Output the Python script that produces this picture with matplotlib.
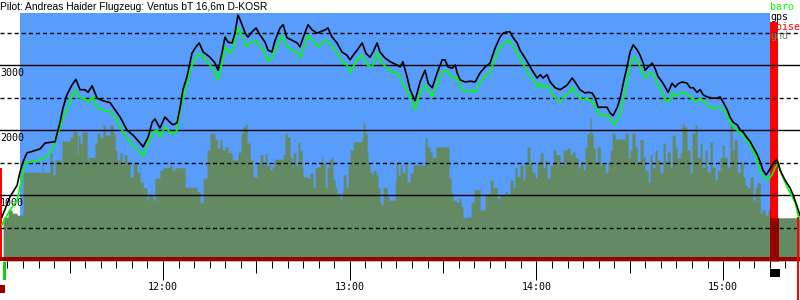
import matplotlib
matplotlib.use("Agg")
import matplotlib.pyplot as plt
from matplotlib.patches import Rectangle

# Zeit in Minuten nach 11:00, Hoehen in m
gps_t = [8.2, 10.8, 13.1, 14.0, 15.0, 16.3, 17.2, 20.5, 22.1, 25.3,
         26.9, 27.9, 29.1, 30.7, 32.0, 33.3, 34.9, 35.9, 37.2, 38.8,
         40.7, 43.0, 44.6, 46.2, 48.4, 50.4, 52.6, 53.6, 55.2, 56.5,
         57.4, 59.0, 60.6, 62.2, 63.2, 64.5, 65.5, 66.4, 67.7, 69.3,
         70.3, 71.6, 72.9, 75.1, 76.7, 77.7, 79.0, 79.9, 80.9, 82.2,
         83.1, 84.1, 85.4, 86.4, 87.3, 88.6, 89.9, 91.2, 92.8, 93.7,
         95.0, 96.0, 97.6, 98.6, 99.8, 101.5, 103.1, 104.0, 105.0, 106.6,
         107.9, 109.5, 110.5, 112.1, 113.0, 114.3, 115.9, 117.5, 119.1, 120.1,
         121.1, 122.4, 124.0, 125.2, 126.5, 127.5, 128.8, 129.7, 131.3, 133.0,
         133.9, 135.2, 136.2, 137.1, 138.4, 139.4, 140.4, 141.0, 142.6, 144.2,
         145.2, 146.5, 148.1, 149.7, 150.6, 151.6, 152.9, 153.9, 154.5, 155.5,
         157.1, 158.7, 160.3, 161.9, 163.5, 165.1, 166.7, 168.3, 169.3, 170.6,
         171.5, 172.5, 173.8, 174.7, 176.3, 177.3, 178.6, 180.2, 181.2, 182.1,
         183.4, 184.4, 186.0, 187.6, 188.6, 189.8, 191.5, 192.4, 194.0, 195.6,
         196.6, 197.9, 198.9, 199.8, 201.4, 202.7, 203.7, 204.6, 205.9, 206.9,
         207.9, 209.1, 210.1, 211.1, 212.4, 213.3, 214.3, 214.9, 215.9, 217.2,
         218.1, 219.1, 220.4, 221.4, 222.3, 223.6, 224.6, 225.5, 226.8, 228.4,
         229.4, 230.4, 231.6, 232.6, 233.6, 234.9, 236.5, 238.1, 239.0, 240.0,
         241.3, 242.2, 243.2, 244.5, 245.5, 246.4, 247.7, 248.7, 249.6, 250.9,
         251.9, 252.8, 253.8, 254.4, 255.4, 256.1, 257.3, 258.3, 259.9, 261.5,
         262.5, 263.8, 264.7]
gps_alt = [660, 970, 1150, 1350, 1510, 1650, 1660, 1710, 1800, 1820,
           2120, 2350, 2540, 2690, 2780, 2620, 2620, 2580, 2680, 2490,
           2450, 2420, 2310, 2200, 2000, 1920, 1800, 1740, 1890, 2120,
           2170, 2030, 2200, 2120, 2080, 2110, 2350, 2620, 2820, 3180,
           3260, 3340, 3200, 3120, 3030, 2920, 3200, 3430, 3350, 3340,
           3490, 3770, 3620, 3490, 3430, 3510, 3570, 3460, 3350, 3230,
           3200, 3380, 3570, 3620, 3420, 3380, 3340, 3280, 3420, 3620,
           3540, 3490, 3510, 3540, 3570, 3430, 3340, 3200, 3150, 3080,
           3150, 3230, 3340, 3180, 3120, 3200, 3340, 3200, 3110, 3050,
           3030, 3000, 2970, 3050, 2820, 2620, 2510, 2450, 2740, 2920,
           2720, 2650, 2880, 3080, 3080, 2970, 2950, 3000, 2880, 2770,
           2740, 2750, 2740, 2880, 2970, 3030, 3260, 3430, 3490, 3510,
           3510, 3420, 3340, 3230, 3110, 3030, 2920, 2800, 2850, 2800,
           2850, 2740, 2650, 2620, 2650, 2690, 2800, 2740, 2620, 2570,
           2580, 2570, 2490, 2350, 2350, 2350, 2260, 2220, 2340, 2490,
           2720, 2970, 3200, 3310, 3230, 3150, 3030, 2920, 2970, 3030,
           2950, 2820, 2740, 2660, 2580, 2720, 2660, 2710, 2740, 2720,
           2650, 2650, 2580, 2620, 2540, 2510, 2490, 2490, 2510, 2430,
           2310, 2200, 2120, 2080, 2000, 1970, 1880, 1820, 1740, 1630,
           1510, 1380, 1310, 1350, 1430, 1490, 1550, 1380, 1230, 1110,
           1000, 820, 690]

baro_t = [8.2, 10.8, 13.1, 14.0, 15.6, 17.2, 20.5, 22.1, 23.7, 25.3,
          26.9, 28.2, 29.5, 30.7, 31.7, 33.3, 34.9, 35.9, 37.5, 38.8,
          40.7, 43.0, 44.6, 46.2, 48.4, 50.4, 52.6, 53.6, 55.2, 56.8,
          58.1, 59.0, 60.6, 62.2, 63.5, 64.5, 65.5, 67.1, 68.7, 70.3,
          71.6, 73.5, 75.1, 76.7, 77.7, 79.0, 79.9, 81.5, 82.5, 84.1,
          85.4, 86.7, 88.0, 89.9, 91.2, 92.8, 93.7, 95.0, 96.6, 98.2,
          99.8, 101.5, 103.1, 104.0, 105.6, 106.6, 108.2, 109.8, 111.4, 112.7,
          114.3, 115.9, 117.5, 119.1, 120.1, 121.1, 122.7, 124.0, 125.6, 127.2,
          128.8, 130.4, 132.0, 133.6, 135.2, 136.2, 137.8, 139.4, 140.4, 141.0,
          142.6, 144.2, 145.8, 146.5, 148.1, 149.7, 151.3, 152.9, 154.5, 155.5,
          157.1, 158.7, 160.3, 161.9, 163.5, 165.1, 166.7, 168.3, 169.9, 171.5,
          172.5, 173.8, 174.7, 176.3, 177.3, 178.6, 180.2, 181.2, 182.1, 183.4,
          184.4, 186.0, 187.6, 189.2, 190.8, 191.5, 193.1, 194.7, 196.3, 197.9,
          199.5, 200.5, 202.1, 203.0, 204.3, 205.3, 206.9, 207.9, 209.1, 210.1,
          211.1, 212.4, 213.3, 214.3, 214.9, 216.5, 217.5, 218.8, 220.4, 221.4,
          222.3, 223.6, 224.6, 226.2, 227.8, 229.4, 231.0, 232.6, 234.2, 235.8,
          237.4, 239.0, 240.6, 242.2, 243.8, 245.5, 247.1, 248.7, 250.3, 250.9,
          251.9, 253.5, 254.4, 255.7, 256.7, 257.7, 258.9, 260.6, 262.2, 263.2,
          264.1, 264.7]
baro_alt = [540, 770, 920, 1120, 1490, 1510, 1540, 1580, 1650, 1800,
            2050, 2230, 2370, 2510, 2620, 2490, 2480, 2420, 2510, 2340,
            2310, 2280, 2200, 2050, 1880, 1770, 1660, 1600, 1800, 1970,
            2000, 1890, 2050, 1970, 1940, 2000, 2310, 2620, 2920, 3110,
            3180, 3080, 3000, 2890, 2770, 3050, 3280, 3180, 3230, 3570,
            3460, 3280, 3340, 3380, 3280, 3200, 3050, 3120, 3280, 3460,
            3280, 3230, 3200, 3110, 3310, 3460, 3380, 3280, 3350, 3380,
            3280, 3200, 3050, 3000, 2880, 2970, 3110, 3150, 3000, 2970,
            3180, 3030, 2950, 2890, 2880, 2800, 2650, 2510, 2380, 2310,
            2570, 2690, 2570, 2510, 2710, 2890, 2920, 2800, 2820, 2660,
            2580, 2620, 2580, 2740, 2820, 2890, 3110, 3260, 3350, 3380,
            3280, 3180, 3110, 2970, 2880, 2800, 2660, 2720, 2650, 2690,
            2620, 2490, 2430, 2540, 2580, 2660, 2540, 2460, 2490, 2430,
            2310, 2220, 2220, 2230, 2120, 2090, 2260, 2460, 2740, 3000,
            3120, 3080, 2970, 2850, 2800, 2890, 2850, 2720, 2570, 2460,
            2430, 2570, 2510, 2580, 2570, 2510, 2430, 2490, 2420, 2350,
            2340, 2350, 2280, 2120, 2030, 1950, 1880, 1770, 1620, 1530,
            1350, 1260, 1230, 1310, 1420, 1490, 1310, 1120, 970, 880,
            690, 620]

# Gelaende (Stufen, jeweils ab Zeitpunkt)
gnd_t = [8.6, 10.2, 11.5, 13.1, 15.0, 21.1, 21.4, 23.7, 24.3, 24.6,
         25.3, 26.9, 27.5, 30.1, 31.1, 32.4, 32.7, 33.3, 34.0, 35.6,
         35.9, 38.1, 38.8, 39.7, 40.7, 41.4, 43.0, 43.9, 44.6, 45.2,
         46.2, 46.8, 47.5, 48.4, 49.4, 50.4, 51.6, 52.6, 53.6, 54.8,
         55.2, 56.8, 57.4, 59.0, 60.0, 62.2, 62.9, 63.9, 67.1, 70.9,
         71.9, 72.9, 74.1, 75.1, 76.7, 77.4, 78.3, 79.0, 79.9, 80.9,
         82.2, 84.1, 85.1, 85.7, 86.4, 87.0, 88.0, 88.9, 90.2, 91.2,
         92.1, 92.8, 93.4, 94.4, 95.0, 95.7, 98.6, 99.2, 99.8, 100.8,
         101.5, 101.8, 102.7, 103.4, 104.0, 104.7, 105.0, 106.6, 107.2, 108.2,
         108.9, 109.5, 110.5, 111.1, 111.4, 112.1, 112.7, 113.3, 114.0, 114.6,
         115.3, 115.9, 116.9, 117.5, 117.9, 118.8, 119.5, 120.1, 121.1, 124.0,
         124.3, 124.9, 125.6, 125.9, 126.5, 127.2, 127.5, 128.5, 129.1, 129.7,
         130.1, 130.7, 131.7, 132.0, 132.6, 134.6, 134.9, 135.5, 136.2, 136.8,
         137.8, 138.4, 139.4, 140.4, 144.2, 144.9, 145.8, 146.5, 147.7, 151.9,
         152.6, 153.2, 154.2, 155.1, 155.8, 156.4, 157.1, 159.0, 160.0, 161.9,
         163.5, 165.1, 166.1, 167.4, 168.3, 169.9, 170.6, 171.5, 172.5, 173.1,
         173.8, 174.7, 175.7, 176.3, 177.0, 177.9, 178.6, 179.6, 180.2, 181.2,
         182.1, 182.8, 183.4, 184.4, 185.4, 186.3, 187.6, 188.6, 189.8, 190.8,
         191.5, 192.4, 193.4, 194.0, 195.0, 195.6, 196.3, 197.2, 197.6, 198.2,
         198.9, 199.5, 200.5, 201.1, 202.1, 203.0, 203.7, 204.3, 205.3, 208.5,
         209.5, 210.1, 210.7, 211.7, 212.4, 213.3, 214.3, 214.9, 215.9, 216.5,
         217.2, 218.1, 218.8, 219.7, 220.7, 221.4, 222.0, 223.0, 223.6, 224.6,
         225.2, 226.2, 226.8, 227.5, 228.4, 229.4, 230.0, 231.0, 231.6, 232.6,
         233.2, 234.2, 234.9, 235.8, 236.5, 237.4, 238.1, 239.0, 239.7, 240.3,
         241.3, 242.2, 242.9, 243.5, 244.5, 245.5, 246.4, 247.1, 247.7, 248.7,
         249.6, 250.3, 250.9, 251.9, 252.5, 253.5, 254.4, 255.1, 264.7]
gnd_alt = [660, 770, 720, 690, 1350, 1510, 1350, 1650, 1460, 1310,
           1540, 1510, 1830, 1890, 1980, 1620, 1920, 1800, 1970, 1490,
           1580, 1800, 1950, 1880, 2080, 1920, 2080, 1950, 1690, 1540,
           1650, 1460, 1620, 1510, 1280, 1510, 1350, 1200, 1110, 920,
           1000, 920, 1260, 1380, 1420, 1460, 1380, 1420, 1120, 1050,
           880, 1260, 1690, 1950, 1850, 1720, 1850, 1690, 1740, 1650,
           1540, 1660, 1950, 2050, 2090, 1800, 1540, 1280, 1490, 1620,
           1460, 1650, 1460, 1380, 1430, 1550, 1620, 1950, 1890, 1580,
           1420, 1650, 1460, 1820, 1690, 1430, 1280, 1260, 1340, 1120,
           1420, 1430, 1510, 1600, 1490, 1120, 1420, 1540, 1580, 1230,
           1110, 1030, 940, 1050, 1310, 1120, 1460, 1690, 1820, 1880,
           2110, 1950, 1650, 1490, 1350, 1310, 1380, 1310, 1110, 890,
           850, 1110, 1120, 970, 920, 1200, 1510, 1310, 1460, 1350,
           1510, 1200, 1340, 1460, 1880, 1740, 1660, 1580, 1740, 1260,
           1030, 920, 890, 950, 820, 650, 660, 890, 1080, 770,
           1020, 1230, 1110, 950, 1000, 1050, 1000, 1230, 1120, 1430,
           1280, 1460, 1230, 1490, 1740, 1490, 1350, 1260, 1510, 1650,
           1420, 1540, 1260, 1460, 1690, 1620, 1460, 1690, 1720, 1620,
           1660, 1570, 1420, 1510, 1380, 1740, 1950, 2180, 1950, 1720,
           1490, 1740, 1460, 1490, 1350, 1510, 1690, 1950, 1860, 1950,
           1570, 1690, 1950, 1740, 1510, 1850, 1580, 1380, 1200, 1620,
           1420, 1690, 1540, 1340, 1800, 1510, 1660, 1430, 1920, 1740,
           1570, 1650, 2090, 2050, 1690, 1340, 1950, 2080, 1580, 1800,
           1430, 1690, 1350, 1820, 1430, 1230, 1380, 1570, 1770, 1580,
           1430, 2080, 1690, 1850, 1350, 1510, 1280, 1150, 1110, 1280,
           920, 1110, 1190, 720, 770, 690, 770, 650, 650]

# Motorgeraeusch (Start und Ende), Hoehe des Balkens
noise_t0 = [7.6, 254.9]
noise_t1 = [8.2, 257.7]
noise_top = [1410, 3660]

air_t0, air_t1 = 14.0, 255.1
start_t = (8.6, 9.5)
finish_t = (255.1, 258.3)
landing_t = 264.1

hour_ticks = [60, 120, 180, 240]
hour_labels = ["12:00", "13:00", "14:00", "15:00"]
alt_labels = [1000, 2000, 3000]

title = "Pilot: Andreas Haider Flugzeug: Ventus bT 16,6m D-KOSR"

BLUE = "#589cfc"
GND = "#638a62"
DARKRED = "#990000"
MONO = "DejaVu Sans Mono"

plt.rcParams["lines.scale_dashes"] = False

fig = plt.figure(figsize=(8, 3), dpi=100)
ax = fig.add_axes([0, 1 - 261 / 300, 1, 248 / 300])
ax.set_xlim(7.6, 264.7)
ax.set_ylim(-15, 3800)
for s in ax.spines.values():
    s.set_visible(False)

# Hintergrund in der Luft
ax.axvspan(air_t0, air_t1, color=BLUE, lw=0, zorder=0.5)

# Gelaende
ax.fill_between(gnd_t, -15, gnd_alt, step="post", color=GND, lw=0, zorder=1)

# Geraeusch
for t0, t1, top in zip(noise_t0, noise_t1, noise_top):
    ax.add_patch(Rectangle((t0, -15), t1 - t0, top + 15, color="red", lw=0, zorder=1.5))
poly = ax.fill_between(gnd_t, -15, gnd_alt, step="post", color=DARKRED, lw=0, zorder=1.6)
poly.set_clip_path(Rectangle((noise_t0[1], -15), noise_t1[1] - noise_t0[1], 4000,
                             transform=ax.transData))

ax.axhspan(-15, 46, color=DARKRED, lw=0, zorder=2)

# Gitter
for v in [1000, 2000, 3000]:
    ax.axhline(v, color="black", lw=1.0, zorder=3)
for v in [500, 1500, 2500, 3500]:
    ax.axhline(v, color="black", lw=1.0, ls=(0, (2.9, 2.2)), zorder=3)

for v in alt_labels:
    ax.annotate(str(v), xy=(0, v), xycoords=ax.get_yaxis_transform(),
                xytext=(0, -3), textcoords="offset pixels", va="top", ha="left",
                family=MONO, fontsize=7.2, zorder=3.5)

ax.plot(baro_t, baro_alt, color="#00ff00", lw=1.2, zorder=4)
ax.plot(gps_t, gps_alt, color="black", lw=1.2, zorder=5)

# Achse
ax.set_yticks([])
ax.set_xticks(hour_ticks)
ax.set_xticklabels(hour_labels, family=MONO, fontsize=7.2)
ax.set_xticks(range(10, 265, 5), minor=True)
ax.tick_params(axis="x", which="major", length=13.7, width=0.72, pad=1.3, color="black")
ax.tick_params(axis="x", which="minor", length=5.0, width=0.72, color="black")
xtr = ax.get_xaxis_transform()
ax.vlines([30, 90, 150, 210], -12 / 248, 0, transform=xtr, color="black",
          lw=0.72, clip_on=False)

# Markierungen unter der Achse
ax.add_patch(Rectangle((start_t[0], -0.077), start_t[1] - start_t[0], 0.073,
                       transform=xtr, color="#11cc11", lw=0, clip_on=False))
ax.add_patch(Rectangle((7.6, -0.129), 1.6, 0.032, transform=xtr, color=DARKRED,
                       lw=0, clip_on=False))
ax.add_patch(Rectangle((finish_t[0], -0.0645), finish_t[1] - finish_t[0], 0.032,
                       transform=xtr, color="black", lw=0, clip_on=False))
ax.axvline(landing_t, ymin=-0.157, ymax=(650 + 15) / 3815, color="red", lw=1.4,
           clip_on=False, zorder=5)

fig.text(0.0, 1 - 2 / 300, title, va="top", ha="left", family="Liberation Sans",
         fontsize=7.4)

legend = [("baro", "#00ff00"), ("gps", "black"), ("noise", "red"), ("gnd", GND)]
for i, (name, col) in enumerate(legend):
    fig.text(770 / 800, 1 - (10 + 9.8 * i) / 300, name, va="baseline", ha="left",
             family=MONO, fontsize=7.2, color=col)

fig.savefig("out.png", dpi=100)
